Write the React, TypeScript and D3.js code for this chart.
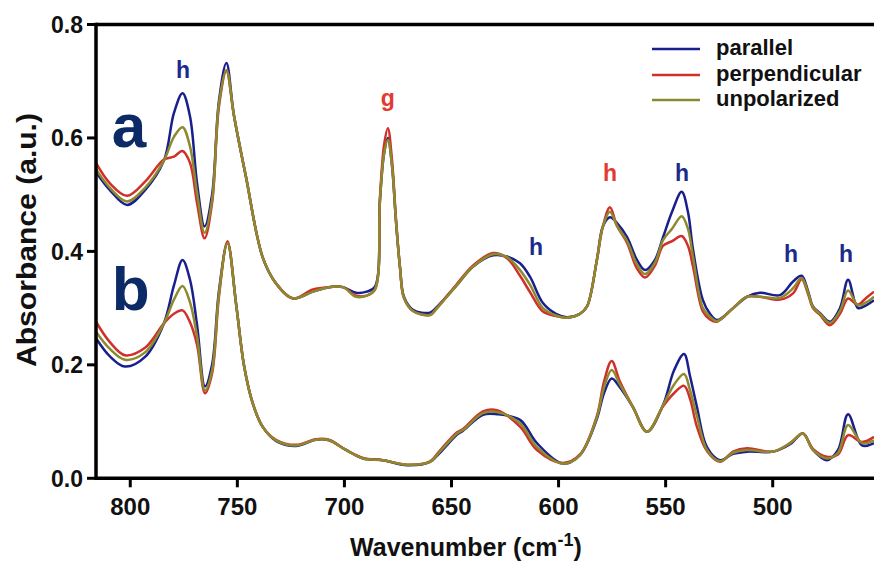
import React from "react";
import * as d3 from "d3";

// ---------- DATA ----------
const seriesNames = ["parallel", "perpendicular", "unpolarized"];

// spectrum a (upper)
const wnA = [816.0, 809.5, 801.5, 793.1, 784.3, 779.6, 775.6, 772.1, 768.8, 765.3, 761.8, 758.6, 755.1, 751.6, 746.0, 738.2, 732.0, 724.0, 714.7, 707.2, 700.7, 694.6, 689.6, 685.7, 683.4, 681.5, 679.7, 677.8, 675.9, 674.0, 672.2, 668.0, 660.0, 656.8, 647.4, 640.0, 630.6, 624.1, 618.0, 613.3, 607.3, 601.2, 596.1, 590.0, 586.7, 582.1, 579.3, 576.0, 572.7, 568.0, 563.4, 559.6, 555.0, 551.2, 547.0, 542.5, 539.6, 537.2, 532.6, 529.3, 526.0, 518.5, 512.0, 505.9, 496.6, 490.5, 486.5, 483.5, 481.2, 477.9, 473.3, 468.6, 464.8, 460.2, 456.4, 452.7];
const aParallel = [0.540, 0.508, 0.482, 0.508, 0.560, 0.644, 0.679, 0.638, 0.520, 0.444, 0.500, 0.665, 0.732, 0.640, 0.532, 0.390, 0.344, 0.317, 0.329, 0.337, 0.337, 0.327, 0.329, 0.338, 0.490, 0.572, 0.600, 0.552, 0.452, 0.370, 0.320, 0.297, 0.292, 0.302, 0.341, 0.373, 0.393, 0.391, 0.379, 0.355, 0.309, 0.290, 0.284, 0.290, 0.303, 0.385, 0.444, 0.460, 0.450, 0.425, 0.385, 0.367, 0.385, 0.425, 0.470, 0.505, 0.470, 0.403, 0.314, 0.290, 0.279, 0.300, 0.320, 0.327, 0.323, 0.347, 0.357, 0.330, 0.303, 0.291, 0.276, 0.300, 0.350, 0.300, 0.305, 0.314];
const aPerpendicular = [0.556, 0.520, 0.498, 0.523, 0.562, 0.567, 0.577, 0.556, 0.485, 0.423, 0.485, 0.655, 0.718, 0.640, 0.532, 0.390, 0.344, 0.317, 0.333, 0.337, 0.337, 0.322, 0.322, 0.333, 0.495, 0.587, 0.617, 0.562, 0.457, 0.370, 0.318, 0.295, 0.288, 0.300, 0.343, 0.375, 0.397, 0.388, 0.357, 0.328, 0.294, 0.286, 0.283, 0.290, 0.303, 0.385, 0.444, 0.478, 0.445, 0.415, 0.370, 0.354, 0.375, 0.410, 0.418, 0.427, 0.410, 0.373, 0.294, 0.280, 0.276, 0.300, 0.320, 0.320, 0.315, 0.326, 0.351, 0.325, 0.300, 0.288, 0.270, 0.290, 0.317, 0.306, 0.318, 0.329];
const aUnpolarized = [0.545, 0.512, 0.488, 0.512, 0.560, 0.602, 0.619, 0.585, 0.503, 0.433, 0.490, 0.660, 0.720, 0.640, 0.532, 0.390, 0.344, 0.317, 0.329, 0.337, 0.337, 0.320, 0.322, 0.333, 0.490, 0.572, 0.597, 0.552, 0.452, 0.370, 0.318, 0.295, 0.288, 0.300, 0.341, 0.373, 0.395, 0.390, 0.367, 0.341, 0.300, 0.287, 0.283, 0.290, 0.303, 0.385, 0.444, 0.470, 0.445, 0.418, 0.377, 0.360, 0.380, 0.420, 0.440, 0.462, 0.440, 0.390, 0.300, 0.285, 0.277, 0.300, 0.320, 0.320, 0.318, 0.335, 0.353, 0.328, 0.302, 0.290, 0.274, 0.295, 0.331, 0.305, 0.310, 0.320];

// spectrum b (lower)
const wnB = [816.0, 809.5, 802.5, 793.1, 784.3, 779.6, 775.6, 772.1, 768.8, 765.1, 761.8, 758.6, 754.6, 750.6, 746.8, 742.8, 738.2, 732.0, 722.6, 713.3, 707.2, 699.3, 691.3, 682.0, 670.8, 660.0, 655.4, 647.4, 644.6, 635.3, 628.8, 618.0, 610.1, 598.0, 590.0, 582.1, 578.8, 575.2, 571.3, 565.2, 558.7, 551.2, 546.1, 541.4, 538.6, 535.4, 530.7, 524.6, 518.5, 512.0, 499.9, 491.9, 485.9, 481.2, 474.7, 469.5, 464.8, 458.3, 452.7];
const bParallel = [0.247, 0.215, 0.197, 0.214, 0.273, 0.340, 0.385, 0.350, 0.270, 0.162, 0.200, 0.330, 0.415, 0.308, 0.197, 0.132, 0.091, 0.066, 0.057, 0.068, 0.067, 0.050, 0.035, 0.032, 0.023, 0.029, 0.045, 0.077, 0.084, 0.112, 0.113, 0.103, 0.062, 0.026, 0.041, 0.105, 0.150, 0.176, 0.160, 0.125, 0.082, 0.129, 0.190, 0.219, 0.180, 0.126, 0.055, 0.032, 0.043, 0.047, 0.047, 0.060, 0.079, 0.050, 0.032, 0.050, 0.113, 0.058, 0.062];
const bPerpendicular = [0.276, 0.240, 0.217, 0.230, 0.273, 0.290, 0.296, 0.275, 0.235, 0.150, 0.185, 0.320, 0.418, 0.308, 0.197, 0.132, 0.091, 0.068, 0.059, 0.069, 0.068, 0.050, 0.036, 0.032, 0.024, 0.030, 0.049, 0.081, 0.087, 0.118, 0.120, 0.091, 0.050, 0.027, 0.042, 0.110, 0.170, 0.207, 0.170, 0.125, 0.082, 0.127, 0.150, 0.163, 0.140, 0.091, 0.048, 0.029, 0.047, 0.053, 0.047, 0.062, 0.079, 0.052, 0.038, 0.042, 0.076, 0.064, 0.073];
const bUnpolarized = [0.2585, 0.228, 0.209, 0.222, 0.273, 0.315, 0.339, 0.310, 0.250, 0.155, 0.190, 0.325, 0.415, 0.308, 0.197, 0.132, 0.091, 0.067, 0.058, 0.068, 0.067, 0.050, 0.035, 0.032, 0.024, 0.029, 0.047, 0.079, 0.085, 0.115, 0.117, 0.097, 0.055, 0.026, 0.041, 0.108, 0.160, 0.191, 0.165, 0.125, 0.082, 0.129, 0.165, 0.184, 0.155, 0.110, 0.050, 0.030, 0.045, 0.050, 0.047, 0.062, 0.079, 0.050, 0.035, 0.045, 0.094, 0.062, 0.067];

const xTicks = [800, 750, 700, 650, 600, 550, 500];
const yTicks = [0.0, 0.2, 0.4, 0.6, 0.8];

// peak annotations (wavenumber, absorbance of label baseline)
const peakText = ["h", "g", "h", "h", "h", "h", "h"];
const peakWn = [775.4, 679.7, 610.5, 576.0, 542.4, 491.5, 465.8];
const peakAbs = [0.706, 0.656, 0.394, 0.524, 0.524, 0.381, 0.381];
const peakKind = ["blue", "red", "blue", "red", "blue", "blue", "blue"];

const panelText = ["a", "b"];
const panelWn = [808.6, 808.6];
const panelAbs = [0.584, 0.297];

// ---------- STYLE ----------
const W = 874;
const H = 562;
const colors = { parallel: "#1a1f8e", perpendicular: "#d0302a", unpolarized: "#8c8a2c" };
const labelColors = { blue: "#1c2a8c", red: "#e23a30" };
const FONT = "'Liberation Sans', Arial, sans-serif";

export default function App() {
  const x = d3.scaleLinear().domain([816, 452.7]).range([96, 874]);
  const y = d3.scaleLinear().domain([0, 0.8]).range([478.3, 24.5]);
  const line = d3
    .line<[number, number]>()
    .x((d) => x(d[0]))
    .y((d) => y(d[1]))
    .curve(d3.curveCatmullRom.alpha(0.5));

  const mk = (wn: number[], v: number[]) => line(wn.map((w, i) => [w, v[i]] as [number, number])) || "";

  const curves = [
    { key: "a-par", d: mk(wnA, aParallel), c: colors.parallel },
    { key: "b-par", d: mk(wnB, bParallel), c: colors.parallel },
    { key: "a-perp", d: mk(wnA, aPerpendicular), c: colors.perpendicular },
    { key: "b-perp", d: mk(wnB, bPerpendicular), c: colors.perpendicular },
    { key: "a-unp", d: mk(wnA, aUnpolarized), c: colors.unpolarized },
    { key: "b-unp", d: mk(wnB, bUnpolarized), c: colors.unpolarized },
  ];

  const x0 = 96;
  const x1 = 874;
  const yBottom = y(0);
  const yTop = y(0.8);

  const legendColors = [colors.parallel, colors.perpendicular, colors.unpolarized];
  const legendY = [49, 75, 100];

  return (
    <svg
      width={W}
      height={H}
      viewBox={`0 0 ${W} ${H}`}
      style={{ position: "absolute", left: 0, top: 0, background: "#fff" }}
      fontFamily={FONT}
    >
      <rect x={0} y={0} width={W} height={H} fill="#fff" />
      {/* curves */}
      {curves.map((c) => (
        <path key={c.key} d={c.d} fill="none" stroke={c.c} strokeWidth={2.5} strokeLinejoin="round" />
      ))}

      {/* frame / axes */}
      <line x1={x0} x2={x1} y1={yTop} y2={yTop} stroke="#000" strokeWidth={3.5} />
      <line x1={x0} x2={x1} y1={yBottom} y2={yBottom} stroke="#000" strokeWidth={3.5} />
      <line x1={x0} x2={x0} y1={yTop - 1.75} y2={yBottom + 1.75} stroke="#000" strokeWidth={3.5} />

      {yTicks.map((t) => (
        <g key={"yt" + t}>
          <line x1={x0 - 9} x2={x0} y1={y(t)} y2={y(t)} stroke="#000" strokeWidth={3} />
          <text x={83} y={y(t)} dy="0.36em" textAnchor="end" fontSize={23} fontWeight="bold" fill="#111">
            {t.toFixed(1)}
          </text>
        </g>
      ))}
      {xTicks.map((t) => (
        <g key={"xt" + t}>
          <line x1={x(t)} x2={x(t)} y1={yBottom} y2={yBottom + 9} stroke="#000" strokeWidth={3} />
          <text x={x(t)} y={515} textAnchor="middle" fontSize={24} fontWeight="bold" fill="#111">
            {t}
          </text>
        </g>
      ))}

      {/* axis titles */}
      <text x={466} y={556} textAnchor="middle" fontSize={25} fontWeight="bold" fill="#111">
        Wavenumber (cm
        <tspan fontSize={18} dy={-10}>-1</tspan>
        <tspan dy={10}>)</tspan>
      </text>
      <text
        transform="translate(36,240) rotate(-90)"
        textAnchor="middle"
        fontSize={27}
        fontWeight="bold"
        fill="#111"
        textLength={254}
        lengthAdjust="spacingAndGlyphs"
      >
        Absorbance (a.u.)
      </text>

      {/* panel letters */}
      {panelText.map((t, i) => (
        <text key={"p" + t} x={x(panelWn[i])} y={y(panelAbs[i])} fontSize={62} fontWeight="bold" fill="#0c2a66">
          {t}
        </text>
      ))}

      {/* peak labels */}
      {peakText.map((t, i) => (
        <text
          key={"pk" + i}
          x={x(peakWn[i])}
          y={y(peakAbs[i])}
          textAnchor="middle"
          fontSize={23}
          fontWeight="bold"
          fill={labelColors[peakKind[i] as "blue" | "red"]}
        >
          {t}
        </text>
      ))}

      {/* legend */}
      {seriesNames.map((s, i) => (
        <g key={"lg" + s}>
          <line x1={652} x2={700} y1={legendY[i]} y2={legendY[i]} stroke={legendColors[i]} strokeWidth={2.5} />
          <text x={716} y={legendY[i] + 6} fontSize={22} fontWeight="bold" fill="#111">
            {s}
          </text>
        </g>
      ))}
    </svg>
  );
}
